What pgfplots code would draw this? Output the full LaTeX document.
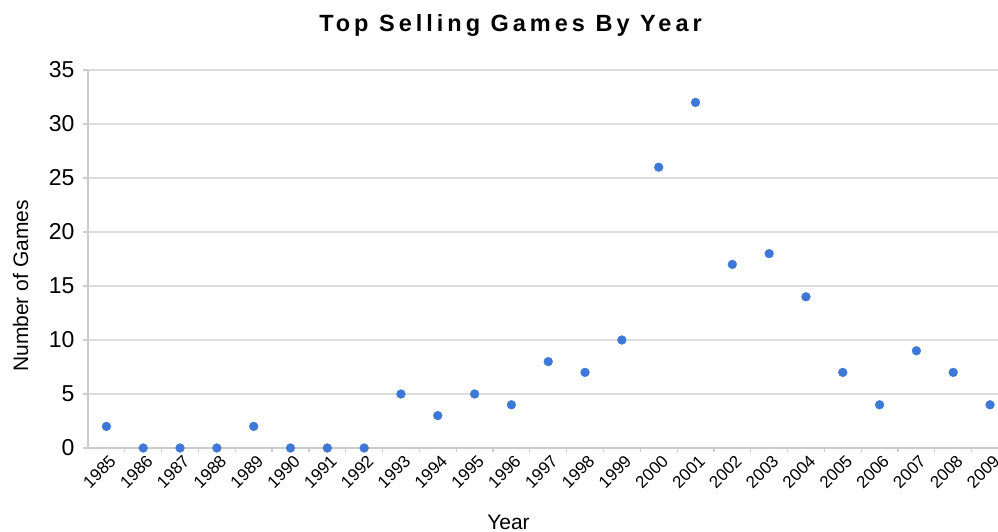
\documentclass[border=0pt]{standalone}
\usepackage{fontspec}
\setmainfont{Liberation Sans}
\newfontfamily\titlefont{Liberation Sans}[LetterSpace=17]
\usepackage{pgfplots}
\pgfplotsset{compat=1.18}
\definecolor{dotblue}{RGB}{61,120,216}
\definecolor{gridgray}{RGB}{221,221,221}
\definecolor{axisgray}{RGB}{204,204,204}
\begin{document}
\begin{tikzpicture}
\useasboundingbox (0,0) rectangle (998bp,532bp);
\begin{axis}[
  at={(88bp,84bp)}, anchor=south west,
  scale only axis, width=910bp, height=378bp,
  xmin=-0.5, xmax=24.216, ymin=0, ymax=35,
  clip=false,
  axis x line*=bottom, axis y line*=left,
  axis line style={axisgray, line width=1.8bp, -},
  ytick={0,5,...,35},
  xtick={0,...,24},
  xticklabels={1985,1986,1987,1988,1989,1990,1991,1992,1993,1994,1995,1996,1997,1998,1999,2000,2001,2002,2003,2004,2005,2006,2007,2008,2009},
  minor xtick={0.5,1.5,...,23.5},
  major tick length=5bp, minor tick length=4bp,
  tick align=outside,
  major x tick style={draw=none},
  minor x tick style={axisgray, line width=1.2bp},
  y tick style={axisgray, line width=1.5bp},
  ymajorgrids, grid style={gridgray, line width=1.5bp},
  /pgf/number format/assume math mode=true,
  yticklabel style={font=\fontsize{23bp}{26bp}\selectfont, text=black, xshift=-5bp},
  xticklabel style={font=\fontsize{17bp}{19bp}\selectfont, rotate=45, anchor=north east, text=black, inner sep=1bp, xshift=2bp, yshift=-1bp},
]
\addplot[only marks, mark=*, mark size=4.4bp, mark options={fill=dotblue, draw=dotblue}] coordinates {
(0,2) (1,0) (2,0) (3,0) (4,2) (5,0) (6,0) (7,0) (8,5) (9,3) (10,5) (11,4) (12,8)
(13,7) (14,10) (15,26) (16,32) (17,17) (18,18) (19,14) (20,7) (21,4) (22,9) (23,7) (24,4)
};
\end{axis}
\node[anchor=base] at (510.5bp,500bp) {\titlefont\bfseries\fontsize{23.5bp}{27bp}\selectfont Top Selling Games By Year};
\node[anchor=base, rotate=90] at (28bp,246bp) {\fontsize{21bp}{25bp}\selectfont Number of Games};
\node[anchor=base] at (508.5bp,3bp) {\fontsize{21bp}{25bp}\selectfont Year};
\end{tikzpicture}
\end{document}
